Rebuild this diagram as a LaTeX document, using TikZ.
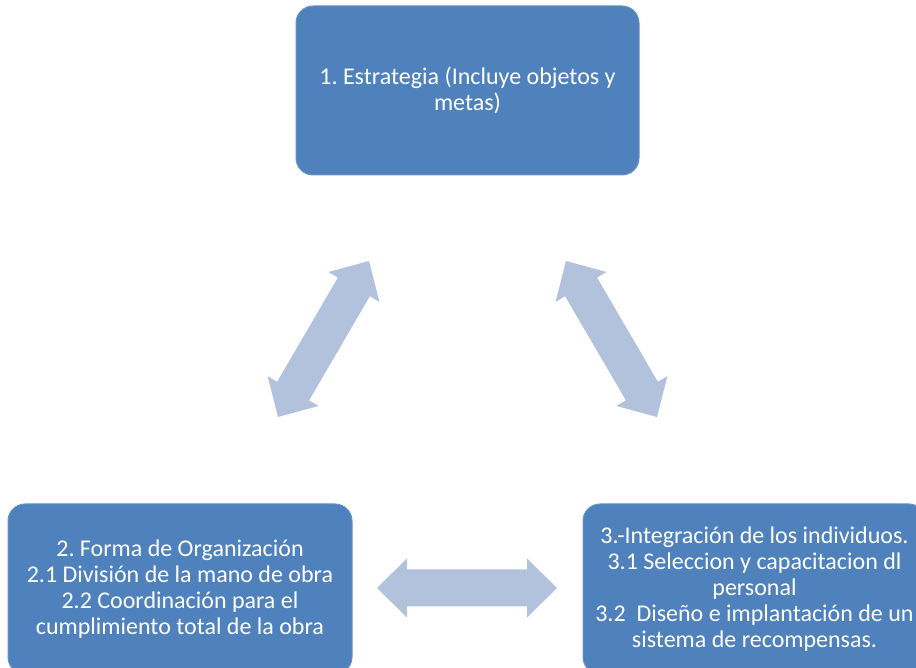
\documentclass[tikz,border=0pt]{standalone}
\usepackage{fontspec}
\setmainfont{Carlito}
\frenchspacing
\usetikzlibrary{calc}
\definecolor{boxfill}{HTML}{4F81BD}
\definecolor{arrowfill}{HTML}{B2C1DC}
\tikzset{
  box/.style={rectangle, rounded corners=17pt, fill=boxfill, draw=boxfill!85!white, line width=1pt,
    text=white, align=center, inner sep=0pt,
    font=\fontsize{24}{26}\selectfont\frenchspacing},
}
\newcommand\dblarrow[2]{%
  \fill[arrowfill] (#1)
    -- ($(#1)!30pt!(#2)!29.5pt!90:(#2)$)
    -- ($(#1)!30pt!(#2)!18.5pt!90:(#2)$)
    -- ($(#2)!30pt!(#1)!18.5pt!-90:(#1)$)
    -- ($(#2)!30pt!(#1)!29.5pt!-90:(#1)$)
    -- (#2)
    -- ($(#2)!30pt!(#1)!29.5pt!90:(#1)$)
    -- ($(#2)!30pt!(#1)!18.5pt!90:(#1)$)
    -- ($(#1)!30pt!(#2)!18.5pt!-90:(#2)$)
    -- ($(#1)!30pt!(#2)!29.5pt!-90:(#2)$)
    -- cycle;}
\begin{document}
\begin{tikzpicture}[x=1pt,y=1pt]
\clip (0,0) rectangle (916,668);
\fill[white] (0,0) rectangle (916,668);
\node[box, minimum width=343pt, minimum height=169pt] (top) at (467.5,577.5)
  {1. Estrategia (Incluye objetos y\\metas)};
\node[box, minimum width=344pt, minimum height=170pt] (left) at (180,79)
  {2. Forma de Organización\\2.1 División de la mano de obra\\2.2 Coordinación para el\\cumplimiento total de la obra};
\node[box, minimum width=343pt, minimum height=170pt] (right) at (754.5,79)
  {3.-Integración de los individuos.\\3.1 Seleccion y capacitacion dl\\personal\\3.2\ \ Diseño e implantación de un\\sistema de recompensas.};
\coordinate (la) at (278,251);
\coordinate (lb) at (369,407);
\coordinate (ra) at (657,251);
\coordinate (rb) at (566,407);
\coordinate (ha) at (377,80);
\coordinate (hb) at (557,80);
\dblarrow{la}{lb}
\dblarrow{ra}{rb}
\dblarrow{ha}{hb}
\end{tikzpicture}
\end{document}
